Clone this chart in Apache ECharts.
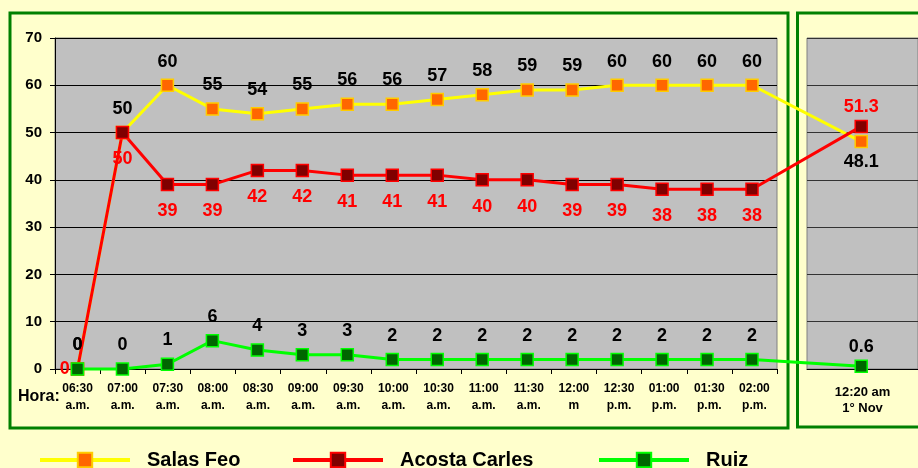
<!DOCTYPE html>
<html><head><meta charset="utf-8">
<script src="https://cdn.jsdelivr.net/npm/echarts@6/dist/echarts.min.js"></script>
<style>html,body{margin:0;padding:0;background:#FFFFCC;}#c{width:918px;height:468px;}</style>
</head><body><div id="c"></div>
<script>
// ---- data ----
const categories = ['06:30\na.m.','07:00\na.m.','07:30\na.m.','08:00\na.m.','08:30\na.m.','09:00\na.m.','09:30\na.m.','10:00\na.m.','10:30\na.m.','11:00\na.m.','11:30\na.m.','12:00\nm','12:30\np.m.','01:00\np.m.','01:30\np.m.','02:00\np.m.'];
const novCategory = ['12:20 am\n1° Nov'];
const salasFeo     = [0,50,60,55,54,55,56,56,57,58,59,59,60,60,60,60];
const acostaCarles = [0,50,39,39,42,42,41,41,41,40,40,39,39,38,38,38];
const ruiz         = [0,0,1,6,4,3,3,2,2,2,2,2,2,2,2,2];
const salasFeoNov = 48.1, acostaCarlesNov = 51.3, ruizNov = 0.6;
const yMin = 0, yMax = 70, yStep = 10;

// ---- layout ----
const FONT = '"Liberation Sans", Arial, sans-serif';
const TOP = 38, BOTTOM = 99;
const L = {left: 55, width: 722};
const R = {left: 807, width: 114};
const unit = L.width / categories.length;
const overlayWidth = R.left + R.width - L.left;
const xMax = -0.5 + overlayWidth / unit;
const xNov = -0.5 + (R.left + R.width / 2 - L.left) / unit;

function build(vals, novVal, cfg) {
  const d = vals.map((v, i) => ({value: [i, v]}));
  d.push({value: [xNov, novVal]});
  (cfg.overrides || []).forEach(o => { d[o.i === 'nov' ? d.length - 1 : o.i].label = o.label; });
  return {
    type: 'line', name: cfg.name, xAxisIndex: 2, yAxisIndex: 2, data: d,
    symbol: 'rect', symbolSize: 12, clip: false, z: 3,
    lineStyle: {color: cfg.line, width: 3},
    itemStyle: {color: cfg.fill, borderColor: cfg.border, borderWidth: 1.5},
    label: {show: true, position: cfg.pos, distance: cfg.dist, color: cfg.labelColor,
      fontFamily: FONT, fontWeight: 'bold', fontSize: 18,
      formatter: p => String(p.value[1])},
    emphasis: {disabled: true}
  };
}

const legendCommon = {
  itemWidth: 90, itemHeight: 18, top: 450, padding: 0,
  lineStyle: {width: 4},
  textStyle: {fontFamily: FONT, fontSize: 20, fontWeight: 'bold', color: '#000', padding: [0, 0, 0, 12]}
};

const option = {
  backgroundColor: '#FFFFCC',
  animation: false,
  graphic: [
    {type: 'rect', z: 1, shape: {x: 10, y: 13, width: 778, height: 415}, style: {fill: 'none', stroke: '#008000', lineWidth: 3}},
    {type: 'rect', z: 1, shape: {x: 797.5, y: 13, width: 200, height: 414}, style: {fill: 'none', stroke: '#008000', lineWidth: 3}},
    {type: 'text', z: 5, x: 18, y: 397, style: {text: 'Hora:', font: 'bold 16px ' + FONT, fill: '#000', verticalAlign: 'middle'}}
  ],
  grid: [
    {left: L.left, width: L.width, top: TOP, bottom: BOTTOM, show: true, backgroundColor: '#C0C0C0', borderColor: '#808080', borderWidth: 1},
    {left: R.left, width: R.width, top: TOP, bottom: BOTTOM, show: true, backgroundColor: '#C0C0C0', borderColor: '#808080', borderWidth: 1},
    {left: L.left, width: overlayWidth, top: TOP, bottom: BOTTOM, show: false}
  ],
  xAxis: [
    {type: 'category', gridIndex: 0, data: categories, boundaryGap: true,
      axisLine: {show: true, lineStyle: {color: '#000', width: 1}},
      axisTick: {show: true, length: 5, lineStyle: {color: '#000'}},
      axisLabel: {interval: 0, margin: 11, color: '#000', fontFamily: FONT, fontWeight: 'bold', fontSize: 12, lineHeight: 17},
      splitLine: {show: false}},
    {type: 'category', gridIndex: 1, data: novCategory, boundaryGap: true,
      axisLine: {show: true, lineStyle: {color: '#000', width: 1}},
      axisTick: {show: false},
      axisLabel: {interval: 0, margin: 15, color: '#000', fontFamily: FONT, fontWeight: 'bold', fontSize: 13, lineHeight: 16},
      splitLine: {show: false}},
    {type: 'value', gridIndex: 2, min: -0.5, max: xMax, show: false}
  ],
  yAxis: [
    {type: 'value', gridIndex: 0, min: yMin, max: yMax, interval: yStep,
      axisLine: {show: true, lineStyle: {color: '#000', width: 1}},
      axisTick: {show: true, length: 5, lineStyle: {color: '#000'}},
      axisLabel: {margin: 13, color: '#000', fontFamily: FONT, fontWeight: 'bold', fontSize: 15},
      splitLine: {show: true, lineStyle: {color: '#000', width: 1}}},
    {type: 'value', gridIndex: 1, min: yMin, max: yMax, interval: yStep,
      axisLine: {show: false}, axisTick: {show: false}, axisLabel: {show: false},
      splitLine: {show: true, lineStyle: {color: '#333', width: 1}}},
    {type: 'value', gridIndex: 2, min: yMin, max: yMax, show: false}
  ],
  legend: [
    Object.assign({data: ['Salas Feo'], left: 38}, legendCommon),
    Object.assign({data: ['Acosta Carles'], left: 291}, legendCommon),
    Object.assign({data: ['Ruiz'], left: 597}, legendCommon)
  ],
  series: [
    build(salasFeo, salasFeoNov, {name: 'Salas Feo', line: '#FFFF00', fill: '#FF6600', border: '#FFCC00', labelColor: '#000', pos: 'top', dist: 8,
      overrides: [{i: 'nov', label: {position: 'bottom', distance: 5}}]}),
    build(acostaCarles, acostaCarlesNov, {name: 'Acosta Carles', line: '#FF0000', fill: '#800000', border: '#FF0000', labelColor: '#FF0000', pos: 'bottom', dist: 11,
      overrides: [{i: 0, label: {position: 'left', distance: 1}}, {i: 'nov', label: {position: 'top', distance: 4}}]}),
    build(ruiz, ruizNov, {name: 'Ruiz', line: '#00FF00', fill: '#006600', border: '#00FF00', labelColor: '#000', pos: 'top', dist: 8,
      overrides: [{i: 'nov', label: {distance: 3}}]})
  ]
};
const chart = echarts.init(document.getElementById('c'));
chart.setOption(option);
</script></body></html>
